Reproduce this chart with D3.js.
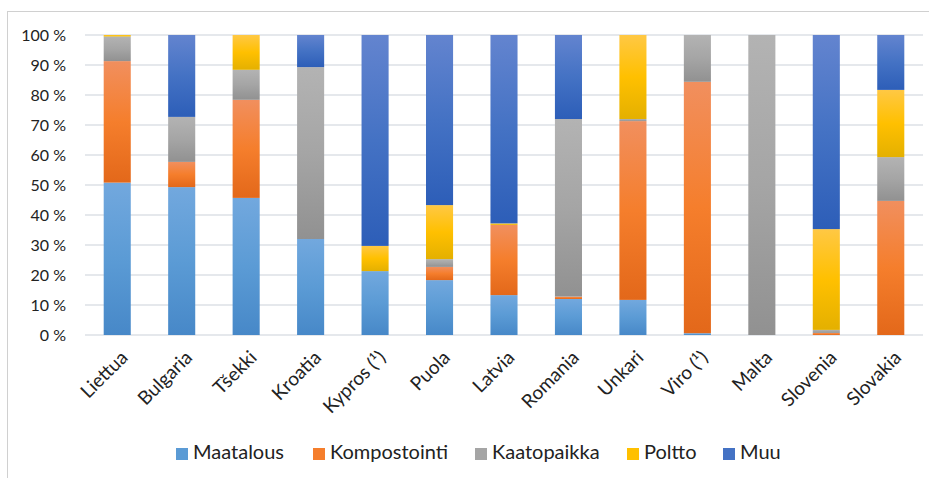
<!DOCTYPE html>
<html>
<meta charset="utf-8">
<script src="https://cdn.jsdelivr.net/npm/d3@7"></script>
<style>
body { margin: 0; background: #fff; }
svg { display: block; }
text { font-family: Lato, "Open Sans", sans-serif; fill: #222; }
</style>
<body>
<svg id="chart" width="929" height="478"></svg>
<script>
// data (shares, %)
const countries = ["Liettua", "Bulgaria", "Tšekki", "Kroatia", "Kypros (¹)", "Puola", "Latvia",
  "Romania", "Unkari", "Viro (¹)", "Malta", "Slovenia", "Slovakia"];
const seriesNames = ["Maatalous", "Kompostointi", "Kaatopaikka", "Poltto", "Muu"];
const maatalous    = [50.8, 49.3, 45.7, 32.0, 21.3, 18.3, 13.3, 12.0, 11.7, 0.6, 0, 0, 0];
const kompostointi = [40.5, 8.4, 32.7, 0, 0, 4.4, 23.4, 0.8, 59.6, 83.8, 0, 0.7, 44.7];
const kaatopaikka  = [8.2, 15.0, 10.0, 57.3, 0, 2.6, 0, 59.2, 0.7, 15.6, 100, 1.0, 14.6];
const poltto       = [0.5, 0, 11.6, 0, 8.4, 18.0, 0.5, 0, 28.0, 0, 0, 33.6, 22.4];
const muu          = [0, 27.3, 0, 10.7, 70.3, 56.7, 62.8, 28.0, 0, 0, 0, 64.7, 18.3];
const yTicks = [0, 10, 20, 30, 40, 50, 60, 70, 80, 90, 100];

// gradient stops per series (top, middle, bottom)
const grads = [
  ["#72a8de", "#5b9bd5", "#4788c8"],
  ["#f18f5e", "#f57e2c", "#e3681a"],
  ["#b3b3b3", "#a5a5a5", "#919191"],
  ["#ffc844", "#ffc000", "#e4b000"],
  ["#6384cf", "#4472c4", "#2d5eb8"]
];

const svg = d3.select("#chart");
const margin = {left: 85, right: 6, top: 35, bottom: 143};
const W = 929, H = 478;

// outer chart frame
svg.append("rect")
  .attr("x", 7.5).attr("y", 11.5)
  .attr("width", 940).attr("height", 520)
  .attr("fill", "none").attr("stroke", "#d0d0d0").attr("stroke-width", 1);

const defs = svg.append("defs");
grads.forEach((g, i) => {
  const lg = defs.append("linearGradient")
    .attr("id", "g" + i).attr("x1", 0).attr("y1", 0).attr("x2", 0).attr("y2", 1);
  lg.append("stop").attr("offset", "0%").attr("stop-color", g[0]);
  lg.append("stop").attr("offset", "50%").attr("stop-color", g[1]);
  lg.append("stop").attr("offset", "100%").attr("stop-color", g[2]);
});

const x = d3.scaleBand().domain(countries)
  .range([margin.left, W - margin.right]).paddingInner(0.58).paddingOuter(0.29);
const y = d3.scaleLinear().domain([0, 100]).range([H - margin.bottom, margin.top]);

// gridlines
svg.append("g")
  .selectAll("line")
  .data(yTicks)
  .join("line")
  .attr("x1", margin.left).attr("x2", W - margin.right)
  .attr("y1", d => y(d)).attr("y2", d => y(d))
  .attr("stroke", "#dde1e6").attr("stroke-width", 1.5);

// y axis labels
const yAxis = d3.axisLeft(y).tickValues(yTicks).tickSize(0).tickPadding(19)
  .tickFormat(d => d + " %");
svg.append("g")
  .attr("transform", "translate(" + margin.left + ",0)")
  .call(yAxis)
  .call(g => g.select(".domain").remove())
  .selectAll("text")
  .style("font-size", "16px")
  .attr("fill", "#222");

// stacked bars
const table = countries.map((c, i) => ({
  country: c,
  Maatalous: maatalous[i], Kompostointi: kompostointi[i], Kaatopaikka: kaatopaikka[i],
  Poltto: poltto[i], Muu: muu[i]
}));
const stacked = d3.stack().keys(seriesNames)(table);

svg.append("g")
  .selectAll("g")
  .data(stacked)
  .join("g")
  .attr("fill", (d, i) => "url(#g" + i + ")")
  .selectAll("rect")
  .data(d => d.filter(p => p[1] - p[0] > 0))
  .join("rect")
  .attr("x", d => x(d.data.country))
  .attr("width", x.bandwidth())
  .attr("y", d => y(d[1]))
  .attr("height", d => y(d[0]) - y(d[1]));

// x axis labels, rotated
svg.append("g")
  .selectAll("text")
  .data(countries)
  .join("text")
  .attr("transform", d => "translate(" + (x(d) + x.bandwidth() / 2 + 7) + "," + (H - margin.bottom + 19) + ") rotate(-45)")
  .attr("text-anchor", "end")
  .attr("dy", "0.35em")
  .style("font-size", "19px")
  .text(d => d);

// legend
const legendX = [176, 313, 475, 627, 723];
const legend = svg.append("g")
  .selectAll("g")
  .data(seriesNames)
  .join("g")
  .attr("transform", (d, i) => "translate(" + legendX[i] + ",459)");
legend.append("rect")
  .attr("x", 0).attr("y", -11).attr("width", 12).attr("height", 12)
  .attr("fill", (d, i) => grads[i][1]);
legend.append("text")
  .attr("x", 17)
  .style("font-size", "20px")
  .text(d => d);
</script>
</body>
</html>
